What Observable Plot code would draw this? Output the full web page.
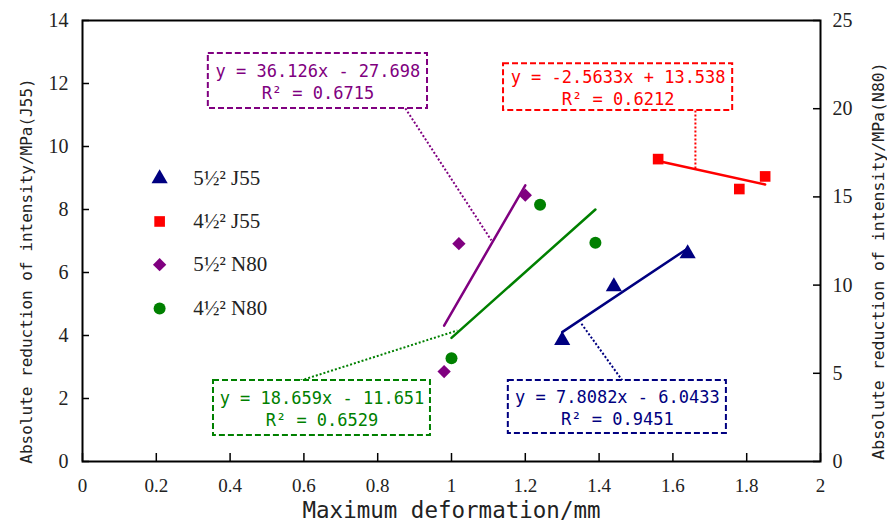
<!DOCTYPE html>
<html><head><meta charset="utf-8">
<script src="https://cdn.jsdelivr.net/npm/d3@7"></script>
<script src="https://cdn.jsdelivr.net/npm/@observablehq/plot@0.6"></script>
<style>body{margin:0;background:#fff}</style>
</head><body><div id="chart"></div>
<script>
// ---- data ----
const seriesNames = ["5½² J55", "4½² J55", "5½² N80", "4½² N80"];
const seriesColors = ["#000080", "#ff0000", "#800080", "#008000"];
const seriesSymbols = ["triangle", "square", "diamond2", "circle"];
const seriesAxis = ["left", "left", "right", "right"]; // J55 on left axis, N80 on right axis

const x55J55 = [1.30, 1.44, 1.64];
const y55J55 = [3.85, 5.55, 6.60];
const x45J55 = [1.56, 1.78, 1.85];
const y45J55 = [9.60, 8.65, 9.05];
const x55N80 = [0.98, 1.02, 1.20];
const y55N80 = [5.10, 12.35, 15.10];
const x45N80 = [1.00, 1.24, 1.39];
const y45N80 = [5.85, 14.55, 12.40];

// regression (from the equations shown)
const fitSlope = [7.8082, -2.5633, 36.126, 18.659];
const fitIntercept = [-6.0433, 13.538, -27.698, -11.651];
const fitXmin = [1.30, 1.56, 0.98, 1.00];
const fitXmax = [1.64, 1.85, 1.20, 1.39];
const fitR2 = ["0.9451", "0.6212", "0.6715", "0.6529"];
const eqText = ["y = 7.8082x - 6.0433", "y = -2.5633x + 13.538", "y = 36.126x - 27.698", "y = 18.659x - 11.651"];

// annotation boxes (data units, left axis)
const boxX1 = [1.154, 1.141, 0.341, 0.355];
const boxX2 = [1.745, 1.762, 0.935, 0.943];
const boxY1 = [0.89, 11.14, 11.21, 0.825];
const boxY2 = [2.57, 12.63, 12.95, 2.57];
// leader lines
const leadX1 = [1.463, 1.661, 0.875, 0.591];
const leadY1 = [2.57, 11.14, 11.21, 2.57];
const leadX2 = [1.35, 1.661, 1.108, 1.016];
const leadY2 = [4.41, 9.30, 7.02, 4.16];

// legend placement (data units)
const legendMarkX = 0.209;
const legendTextX = 0.30;
const legendY = [8.98, 7.62, 6.25, 4.86];

const xTicks = [0, 0.2, 0.4, 0.6, 0.8, 1, 1.2, 1.4, 1.6, 1.8, 2];
const yLeftTicks = [0, 2, 4, 6, 8, 10, 12, 14];
const yRightTicks = [0, 5, 10, 15, 20, 25];
const xLabel = "Maximum deformation/mm";
const yLeftLabel = "Absolute reduction of intensity/MPa(J55)";
const yRightLabel = "Absolute reduction of intensity/MPa(N80)";

// ---- build ----
const W = 887, H = 523, mL = 82, mR = 67, mT = 20, mB = 62;
const plotW = W - mL - mR, plotH = H - mT - mB;
const leftMax = 14, rightMax = 25;
const k = leftMax / rightMax;
const toLeft = (v, axis) => axis === "right" ? v * k : v;

const xs = [x55J55, x45J55, x55N80, x45N80];
const ys = [y55J55, y45J55, y55N80, y45N80];
const points = [];
xs.forEach((arr, i) => arr.forEach((x, j) => points.push({s: i, x, y: toLeft(ys[i][j], seriesAxis[i])})));

const fitLines = [];
seriesNames.forEach((n, i) => {
  [fitXmin[i], fitXmax[i]].forEach(x => fitLines.push({s: i, x, y: toLeft(fitSlope[i] * x + fitIntercept[i], seriesAxis[i])}));
});
const boxes = seriesNames.map((n, i) => ({s: i, x1: boxX1[i], x2: boxX2[i], y1: boxY1[i], y2: boxY2[i],
  cx: (boxX1[i] + boxX2[i]) / 2, cy: (boxY1[i] + boxY2[i]) / 2, text: eqText[i] + "\nR² = " + fitR2[i]}));
const leads = seriesNames.map((n, i) => ({s: i, x1: leadX1[i], y1: leadY1[i], x2: leadX2[i], y2: leadY2[i]}));
const legend = seriesNames.map((n, i) => ({s: i, name: n, y: legendY[i]}));

const color = i => seriesColors[i];
const mono = "'DejaVu Sans Mono', monospace";
const serif = "'Liberation Serif', 'Times New Roman', serif";
const tickRight = yRightTicks.map(v => v * k);

const chart = Plot.plot({
  width: W, height: H,
  marginLeft: mL, marginRight: mR, marginTop: mT, marginBottom: mB,
  x: {domain: [0, 2], axis: null},
  y: {domain: [0, leftMax], axis: null},
  style: {fontFamily: serif, fontSize: "17px", color: "#222", background: "#fff"},
  marks: [
    // inward ticks
    Plot.tickX(xTicks, {x: d => d, insetTop: plotH - 8, stroke: "#000", strokeWidth: 1.5}),
    Plot.tickY(yLeftTicks, {y: d => d, insetRight: plotW - 7, stroke: "#000", strokeWidth: 1.5}),
    Plot.tickY(tickRight, {y: d => d, insetLeft: plotW - 7, stroke: "#000", strokeWidth: 1.5}),
    // tick labels
    Plot.axisX(xTicks, {tickSize: 0, tickPadding: 17, tickFormat: d => String(+d.toFixed(1)), fontSize: 19, fontFamily: serif, fill: "#222", label: null}),
    Plot.axisY(yLeftTicks, {anchor: "left", tickSize: 0, tickPadding: 14, fontSize: 20, fontFamily: serif, fill: "#222", label: null}),
    Plot.axisY(tickRight, {anchor: "right", tickSize: 0, tickPadding: 12, tickFormat: d => String(Math.round(d / k)), fontSize: 20, fontFamily: serif, fill: "#222", label: null}),
    Plot.frame({stroke: "#000", strokeWidth: 2}),
    // axis titles
    Plot.text([xLabel], {frameAnchor: "bottom", textAnchor: "middle", lineAnchor: "middle", dy: 49, fontSize: 22.5, fill: "#222", fontFamily: mono}),
    Plot.text([yLeftLabel], {frameAnchor: "left", textAnchor: "middle", lineAnchor: "middle", dx: -56, dy: 30, rotate: -90, fontSize: 16, fill: "#222", fontFamily: mono}),
    Plot.text([yRightLabel], {frameAnchor: "right", textAnchor: "middle", lineAnchor: "middle", dx: 58, dy: 20, rotate: -90, fontSize: 16.5, fill: "#222", fontFamily: mono}),
    // leader lines
    Plot.link(leads, {x1: "x1", y1: "y1", x2: "x2", y2: "y2", stroke: d => color(d.s), strokeWidth: 2, strokeDasharray: "2,2"}),
    // fit lines
    Plot.line(fitLines, {x: "x", y: "y", z: "s", stroke: d => color(d.s), strokeWidth: 2.5}),
    // points
    Plot.dot(points, {x: "x", y: "y", symbol: d => seriesSymbols[d.s], fill: d => color(d.s), r: 6, stroke: "none"}),
    // equation boxes
    Plot.rect(boxes, {x1: "x1", x2: "x2", y1: "y1", y2: "y2", fill: "#fff", stroke: d => color(d.s), strokeWidth: 2, strokeDasharray: "6,3"}),
    Plot.text(boxes, {x: "cx", y: "cy", text: "text", fill: d => color(d.s), fontSize: 17, lineHeight: 1.3, fontFamily: mono}),
    // legend
    Plot.dot(legend, {x: legendMarkX, y: "y", symbol: d => seriesSymbols[d.s], fill: d => color(d.s), r: 6, stroke: "none"}),
    Plot.text(legend, {x: legendTextX, y: "y", text: "name", textAnchor: "start", fill: "#222", fontSize: 21, letterSpacing: "0.5px", fontFamily: serif})
  ]
});
document.getElementById("chart").appendChild(chart);
</script>
</body></html>
